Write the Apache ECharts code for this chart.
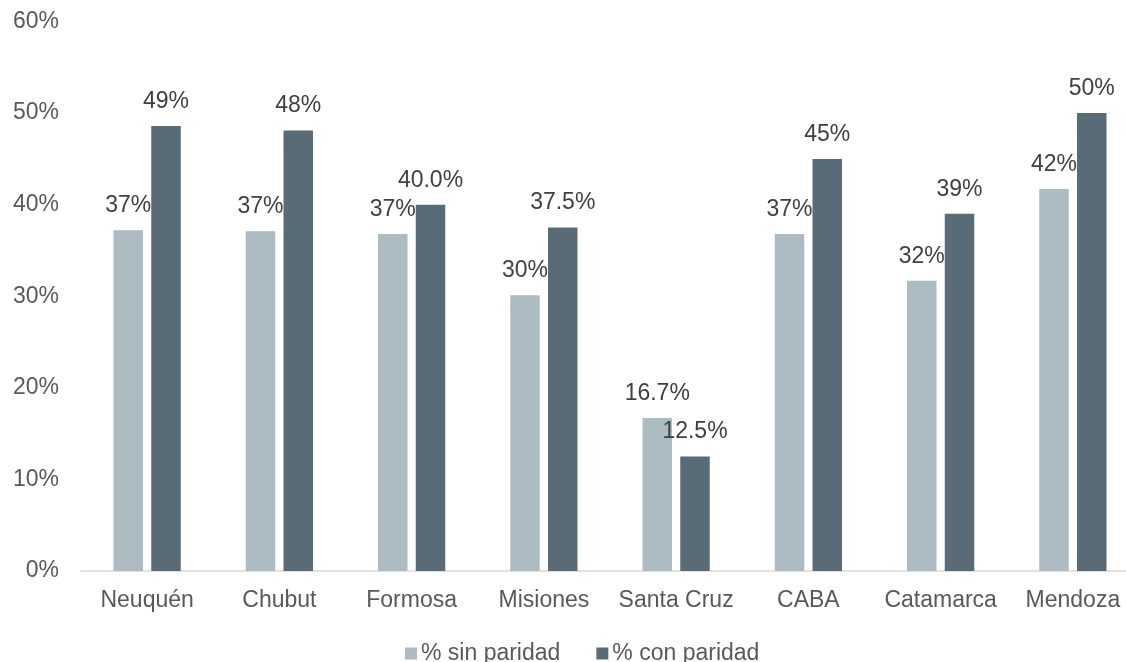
<!DOCTYPE html>
<html>
<head>
<meta charset="utf-8">
<script src="https://cdn.jsdelivr.net/npm/echarts@6/dist/echarts.min.js"></script>
<style>
  html, body { margin: 0; padding: 0; background: #fff; }
  #chart { width: 1126px; height: 662px; }
</style>
</head>
<body>
<div id="chart"></div>
<script>
// datos
var provincias = ['Neuquén', 'Chubut', 'Formosa', 'Misiones', 'Santa Cruz', 'CABA', 'Catamarca', 'Mendoza']
var sinParidad = [37.2, 37.1, 36.8, 30.1, 16.7, 36.8, 31.7, 41.7]
var conParidad = [48.6, 48.1, 40.0, 37.5, 12.5, 45.0, 39.0, 50.0]
// decimales de cada etiqueta
var decSin = [0, 0, 0, 0, 1, 0, 0, 0]
var decCon = [0, 0, 1, 1, 1, 0, 0, 0]
var yTicks = [0, 10, 20, 30, 40, 50, 60]

var font = 'Liberation Sans, Arial, sans-serif'
var fs = 23

function etiqueta (decs) {
  return function (p) {
    return p.value.toFixed(decs[p.dataIndex]) + '%'
  }
}

var chart = echarts.init(document.getElementById('chart'))
chart.setOption({
  backgroundColor: '#fff',
  animation: false,
  grid: {
    left: 81,
    top: 21.5,
    width: 1058,
    height: 549.5,
    containLabel: false,
    outerBoundsMode: 'none'
  },
  legend: {
    left: 405,
    top: 642,
    padding: 0,
    itemWidth: 12,
    itemHeight: 12,
    itemGap: 36,
    icon: 'rect',
    textStyle: { fontFamily: font, fontSize: fs, color: '#595959', padding: [0, 0, 0, -1] },
    data: ['% sin paridad', '% con paridad']
  },
  xAxis: {
    type: 'category',
    data: provincias,
    axisTick: { show: false },
    axisLine: { lineStyle: { color: '#D9D9D9', width: 1.5 } },
    axisLabel: { interval: 0, fontFamily: font, fontSize: fs, color: '#595959', margin: 18 }
  },
  yAxis: {
    type: 'value',
    min: yTicks[0],
    max: yTicks[yTicks.length - 1],
    interval: 10,
    splitLine: { show: false },
    axisLine: { show: false },
    axisTick: { show: false },
    axisLabel: {
      fontFamily: font, fontSize: fs, color: '#595959', margin: 22,
      formatter: function (v) { return v + '%' }
    }
  },
  series: [
    {
      name: '% sin paridad',
      type: 'bar',
      data: sinParidad,
      barWidth: 29.5,
      barGap: '28%',
      itemStyle: { color: '#ADBBC3' },
      label: {
        show: true, position: 'top', distance: 13,
        fontFamily: font, fontSize: fs, color: '#404040',
        formatter: etiqueta(decSin)
      }
    },
    {
      name: '% con paridad',
      type: 'bar',
      data: conParidad,
      barWidth: 29.5,
      barGap: '28%',
      itemStyle: { color: '#596B76' },
      label: {
        show: true, position: 'top', distance: 13,
        fontFamily: font, fontSize: fs, color: '#404040',
        formatter: etiqueta(decCon)
      }
    }
  ]
})
</script>
</body>
</html>
